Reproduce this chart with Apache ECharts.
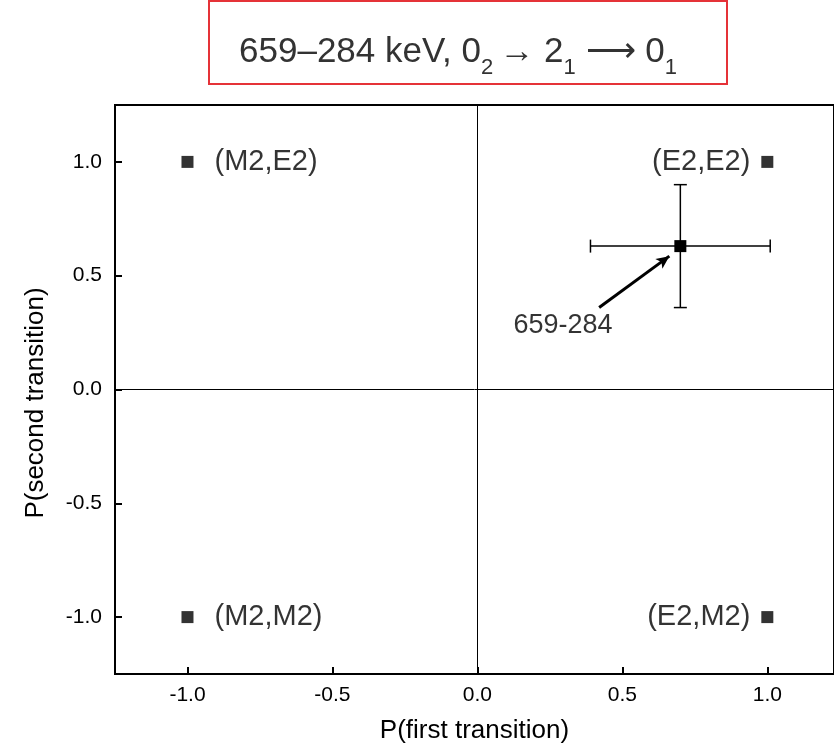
<!DOCTYPE html>
<html lang="en">
<head>
    <meta charset="UTF-8" />
    <title>Polarization plot</title>
    <script src="https://cdn.jsdelivr.net/npm/echarts@6/dist/echarts.min.js"></script>
    <style type="text/css">
        html, body { margin: 0; padding: 0; background: #fff; }
        #chart { width: 834px; height: 755px; }
    </style>
</head>
<body>
    <div id="chart"></div>
    <script type="text/javascript">
        // reference multipolarity combinations
        var refX = [-1, 1, -1, 1];
        var refY = [1, 1, -1, -1];
        var refLabels = ['(M2,E2)', '(E2,E2)', '(M2,M2)', '(E2,M2)'];

        // measured point with errors
        var measX = [0.70];
        var measY = [0.63];
        var errX = [0.31];
        var errY = [0.27];
        var measName = '659-284';

        // arrow from label towards point, and label anchor
        var arrowFrom = [0.42, 0.36];
        var arrowTo = [0.662, 0.586];
        var labelAt = [0.295, 0.28];

        var tickValues = [-1, -0.5, 0, 0.5, 1];

        var font = '"Liberation Sans", Arial, Helvetica, sans-serif';
        var chart = echarts.init(document.getElementById('chart'));

        var refData = refX.map(function (x, i) {
            return {
                value: [x, refY[i]],
                label: {
                    show: true,
                    formatter: refLabels[i],
                    position: x < 0 ? 'right' : 'left',
                    distance: x < 0 ? 21 : 11,
                    color: '#000', fontSize: 29, fontFamily: font
                }
            };
        });

        var measData = measX.map(function (x, i) {
            return [x, measY[i], errX[i], errY[i]];
        });

        var option = {
            backgroundColor: '#fff',
            animation: false,
            textStyle: { fontFamily: font, color: '#000' },
            grid: {
                left: 115, top: 105, right: 0, bottom: 81,
                show: true, borderColor: '#000', borderWidth: 2,
                containLabel: false
            },
            xAxis: {
                type: 'value', min: -1.25, max: 1.23,
                name: 'P(first transition)', nameLocation: 'middle', nameGap: 44,
                nameTextStyle: { fontSize: 26, color: '#000', fontFamily: font },
                axisLine: { show: true, onZero: false, lineStyle: { color: '#000', width: 2 } },
                axisTick: { show: true, inside: true, length: 7, customValues: tickValues, lineStyle: { color: '#000', width: 2 } },
                axisLabel: {
                    customValues: tickValues, color: '#000', fontSize: 21, margin: 11, fontFamily: font,
                    formatter: function (v) { return v.toFixed(1); }
                },
                splitLine: { show: false }
            },
            yAxis: {
                type: 'value', min: -1.25, max: 1.25,
                name: 'P(second transition)', nameLocation: 'middle', nameGap: 66,
                nameTextStyle: { fontSize: 26, color: '#000', fontFamily: font, padding: [0, 27, 0, 0] },
                axisLine: { show: true, onZero: false, lineStyle: { color: '#000', width: 2 } },
                axisTick: { show: true, inside: true, length: 7, customValues: tickValues, lineStyle: { color: '#000', width: 2 } },
                axisLabel: {
                    customValues: tickValues, color: '#000', fontSize: 21, margin: 13, fontFamily: font,
                    formatter: function (v) { return v.toFixed(1); }
                },
                splitLine: { show: false }
            },
            graphic: [
                {
                    type: 'rect',
                    shape: { x: 209, y: 1, width: 518, height: 83 },
                    style: { fill: 'none', stroke: '#e53238', lineWidth: 2 }
                },
                {
                    type: 'text',
                    x: 458, y: 52,
                    style: {
                        text: '{n|659–284 keV, 0}{s|2 }{n|→ 2}{s|1}{n| ⟶ 0}{s|1}',
                        align: 'center', verticalAlign: 'middle',
                        rich: {
                            n: { fontSize: 35, fill: '#333', fontFamily: font, lineHeight: 44 },
                            s: { fontSize: 22, fill: '#333', fontFamily: font, lineHeight: 53, verticalAlign: 'bottom' }
                        }
                    }
                }
            ],
            series: [
                {
                    type: 'scatter',
                    symbol: 'rect', symbolSize: 12,
                    itemStyle: { color: '#000' },
                    data: refData,
                    markLine: {
                        silent: true, symbol: 'none',
                        label: { show: false },
                        lineStyle: { color: '#000', width: 1, type: 'solid' },
                        data: [{ xAxis: 0 }, { yAxis: 0 }]
                    }
                },
                {
                    type: 'custom',
                    renderItem: function (params, api) {
                        var x = api.value(0), y = api.value(1);
                        var ex = api.value(2), ey = api.value(3);
                        var c = api.coord([x, y]);
                        var l = api.coord([x - ex, y]);
                        var r = api.coord([x + ex, y]);
                        var t = api.coord([x, y + ey]);
                        var b = api.coord([x, y - ey]);
                        var cap = 6.5;
                        var st = { stroke: '#000', lineWidth: 1.5 };
                        return {
                            type: 'group',
                            children: [
                                { type: 'line', shape: { x1: l[0], y1: l[1], x2: r[0], y2: r[1] }, style: st },
                                { type: 'line', shape: { x1: t[0], y1: t[1], x2: b[0], y2: b[1] }, style: st },
                                { type: 'line', shape: { x1: l[0], y1: l[1] - cap, x2: l[0], y2: l[1] + cap }, style: st },
                                { type: 'line', shape: { x1: r[0], y1: r[1] - cap, x2: r[0], y2: r[1] + cap }, style: st },
                                { type: 'line', shape: { x1: t[0] - cap, y1: t[1], x2: t[0] + cap, y2: t[1] }, style: st },
                                { type: 'line', shape: { x1: b[0] - cap, y1: b[1], x2: b[0] + cap, y2: b[1] }, style: st },
                                { type: 'rect', shape: { x: c[0] - 6, y: c[1] - 6, width: 12, height: 12 }, style: { fill: '#000' } }
                            ]
                        };
                    },
                    data: measData,
                    z: 3
                },
                {
                    type: 'scatter',
                    symbolSize: 0,
                    data: [{ value: labelAt, name: measName }],
                    label: {
                        show: true, position: 'inside', formatter: '{b}',
                        color: '#000', fontSize: 27, fontFamily: font
                    },
                    markLine: {
                        silent: true,
                        symbol: ['none', 'arrow'], symbolSize: [9, 13],
                        label: { show: false },
                        lineStyle: { color: '#000', width: 3, type: 'solid' },
                        data: [[{ coord: arrowFrom }, { coord: arrowTo }]]
                    }
                }
            ]
        };
        chart.setOption(option);
    </script>
</body>
</html>
